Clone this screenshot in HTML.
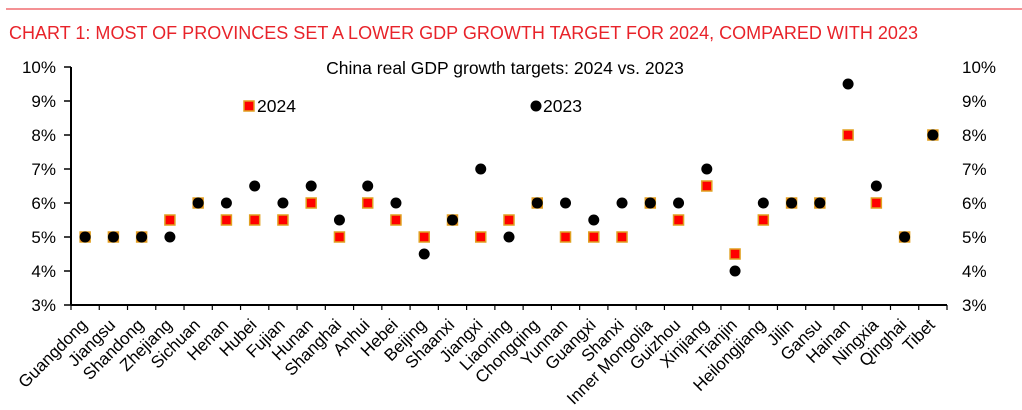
<!DOCTYPE html>
<html><head><meta charset="utf-8"><style>
html,body{margin:0;padding:0;background:#fff;}
svg{display:block;font-family:"Liberation Sans",Arial,sans-serif;}
</style></head><body>
<svg width="1022" height="410" viewBox="0 0 1022 410" xmlns="http://www.w3.org/2000/svg">
<line x1="6" y1="9" x2="1022" y2="9" stroke="#e8232a" stroke-width="1"/>
<text x="9" y="39" font-size="18" fill="#e8232a" textLength="909" lengthAdjust="spacingAndGlyphs">CHART 1: MOST OF PROVINCES SET A LOWER GDP GROWTH TARGET FOR 2024, COMPARED WITH 2023</text>
<text x="505" y="74" font-size="17.5" fill="#000" text-anchor="middle">China real GDP growth targets: 2024 vs. 2023</text>
<g id="chart"></g>
</svg>
<script>
const g=document.getElementById('chart');const NS='http://www.w3.org/2000/svg';
function el(t,a,txt){const e=document.createElementNS(NS,t);for(const k in a)e.setAttribute(k,a[k]);if(txt!==undefined)e.textContent=txt;g.appendChild(e);return e;}
const L=71,R=947,B=305,y=v=>B-(v-3)*34;
const names=["Guangdong","Jiangsu","Shandong","Zhejiang","Sichuan","Henan","Hubei","Fujian","Hunan","Shanghai","Anhui","Hebei","Beijing","Shaanxi","Jiangxi","Liaoning","Chongqing","Yunnan","Guangxi","Shanxi","Inner Mongolia","Guizhou","Xinjiang","Tianjin","Heilongjiang","Jilin","Gansu","Hainan","Ningxia","Qinghai","Tibet"];
const d24=[5,5,5,5.5,6,5.5,5.5,5.5,6,5,6,5.5,5,5.5,5,5.5,6,5,5,5,6,5.5,6.5,4.5,5.5,6,6,8,6,5,8];
const d23=[5,5,5,5,6,6,6.5,6,6.5,5.5,6.5,6,4.5,5.5,7,5,6,6,5.5,6,6,6,7,4,6,6,6,9.5,6.5,5,8];
const w=(R-L)/31;
for(let v=3;v<=10;v++){const yy=y(v);
el('line',{x1:L-7,y1:yy,x2:L,y2:yy,stroke:'#000','stroke-width':1.5});
el('text',{x:L-15,y:yy+6,'font-size':17,'text-anchor':'end',fill:'#000'},v+'%');
el('text',{x:962,y:yy+6,'font-size':17,fill:'#000'},v+'%');}
el('line',{x1:L,y1:y(10),x2:L,y2:B,stroke:'#000','stroke-width':2});
el('line',{x1:L,y1:B,x2:R,y2:B,stroke:'#000','stroke-width':2});
for(let i=0;i<=31;i++){const x=L+w*i;el('line',{x1:x,y1:B,x2:x,y2:B+5,stroke:'#000','stroke-width':1.2});}
names.forEach((n,i)=>{const cx=L+w*(i+0.5);const ax=cx+3,ay=B+21;
el('text',{x:ax,y:ay,'font-size':17,'text-anchor':'end',transform:`rotate(-45 ${ax} ${ay})`,fill:'#000'},n);
el('rect',{x:cx-5,y:y(d24[i])-5,width:10,height:10,fill:'#ff0000',stroke:'#e0a020','stroke-width':1.5});});
names.forEach((n,i)=>{const cx=L+w*(i+0.5);el('circle',{cx:cx,cy:y(d23[i]),r:5.5,fill:'#000'});});
el('rect',{x:244,y:101,width:10,height:10,fill:'#ff0000',stroke:'#e0a020','stroke-width':1.5});
el('text',{x:257,y:112,'font-size':17.5,fill:'#000'},'2024');
el('circle',{cx:536,cy:106,r:5.5,fill:'#000'});
el('text',{x:543,y:112,'font-size':17.5,fill:'#000'},'2023');
</script>
</body></html>
